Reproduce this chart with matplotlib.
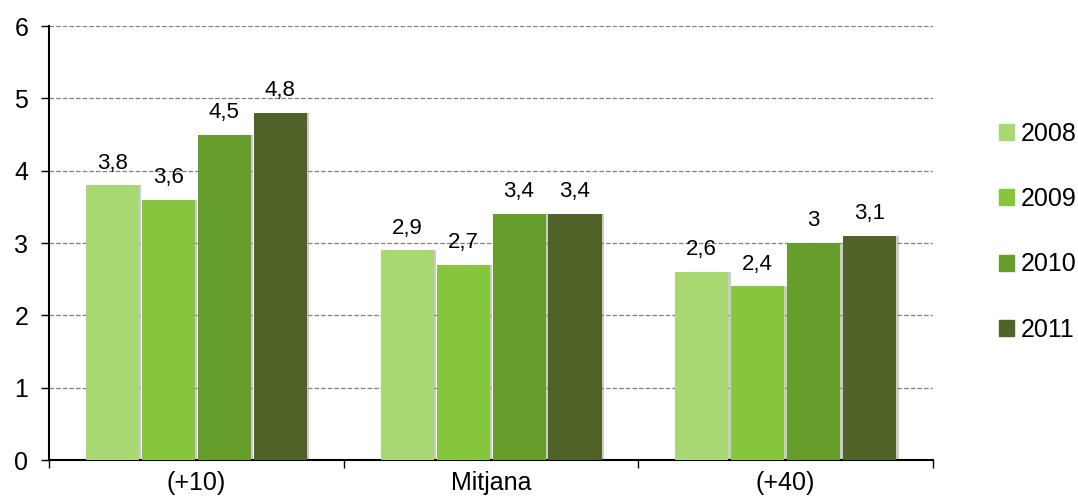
import matplotlib.pyplot as plt
import numpy as np
from matplotlib.patches import Patch

categories = ['(+10)', 'Mitjana', '(+40)']
years = ['2008', '2009', '2010', '2011']
values = {
    '2008': [3.8, 2.9, 2.6],
    '2009': [3.6, 2.7, 2.4],
    '2010': [4.5, 3.4, 3.0],
    '2011': [4.8, 3.4, 3.1],
}
colors = ['#A9D873', '#86C63C', '#669E2B', '#4F6228']

plt.rcParams['font.family'] = ['Liberation Sans', 'DejaVu Sans']

fig = plt.figure(figsize=(10.78, 5.04), dpi=100)
ax = fig.add_axes([0.0455, 0.0873, 0.82, 0.8611])

x = np.arange(len(categories))
w = 0.18
gap = 0.19
for i, (yr, c) in enumerate(zip(years, colors)):
    pos = x + (i - 1.5) * gap
    vals = values[yr]
    # soft shadow
    ax.bar(pos + 0.008, vals, w, color='#999999', alpha=0.5, zorder=2)
    ax.bar(pos, vals, w, color=c, zorder=3)
    for p, v in zip(pos, vals):
        ax.text(p, v + 0.16, f'{v:g}'.replace('.', ','), ha='center', va='bottom',
                fontsize=16, zorder=4)

ax.set_xlim(-0.5, 2.5)
ax.set_ylim(0, 6)
ax.set_yticks(range(7))
ax.tick_params(axis='y', labelsize=18, length=6, width=1, pad=9)
ax.set_xticks(x)
ax.set_xticklabels(categories, fontsize=18)
ax.set_xticks([-0.5, 0.5, 1.5, 2.5], minor=True)
ax.tick_params(axis='x', which='major', length=0, pad=8)
ax.tick_params(axis='x', which='minor', length=6, width=1)
ax.yaxis.grid(True, linestyle='--', color='#808080', linewidth=0.9, zorder=0)
ax.set_axisbelow(True)
for s in ['top', 'right']:
    ax.spines[s].set_visible(False)
ax.spines['left'].set_linewidth(1.5)
ax.spines['bottom'].set_linewidth(1.5)

handles = [Patch(color=c) for c in colors]
fig.legend(handles, years, loc='center left', bbox_to_anchor=(0.927, 0.54),
           frameon=False, fontsize=18, handlelength=0.6, handleheight=0.6,
           handletextpad=0.25, labelspacing=1.65, borderpad=0, borderaxespad=0)

fig.savefig('out.png', dpi=100)
